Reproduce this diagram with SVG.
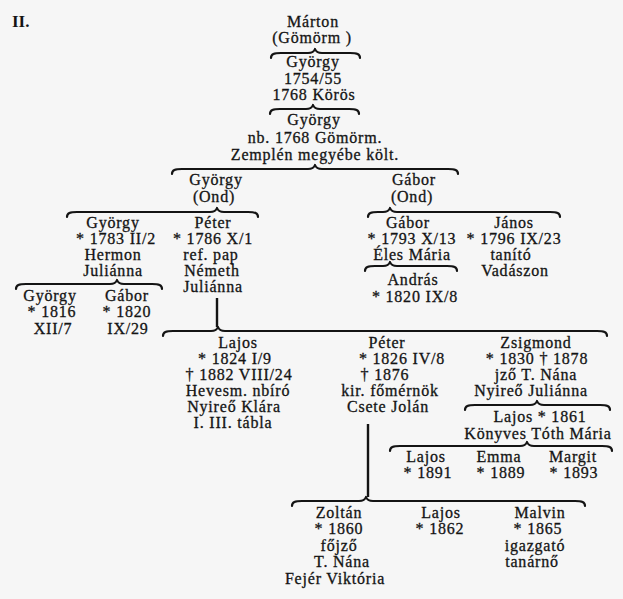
<svg xmlns="http://www.w3.org/2000/svg" width="623" height="599" viewBox="0 0 623 599">
<style>
.t{font-family:"Liberation Serif","Times New Roman",serif;font-size:16px;text-anchor:middle;fill:#141414;stroke:#141414;stroke-width:0.3;letter-spacing:0.8px}
.l{font-family:"Liberation Serif","Times New Roman",serif;font-size:17px;fill:#141414;font-weight:bold}
.b{fill:none;stroke:#141414;stroke-width:2.2;stroke-linecap:round;stroke-linejoin:round}
.v{fill:none;stroke:#141414;stroke-width:2.4}
</style>
<rect width="623" height="599" fill="#f6f6f6"/>
<text class="l" x="12" y="27">II.</text>
<g id="connectors">
<path class="b" d="M271,58 C271,54 274,53 281,53 L308,53 C312,53 314,52 315,49 C316,52 318,53 322,53 L350,53 C357,53 360,54 360,58"/>
<path class="b" d="M270,114 C270,110 273,109 280,109 L306,109 C310,109 312,108 313,105 C314,108 316,109 320,109 L349,109 C356,109 359,110 359,114"/>
<path class="b" d="M172,174 C172,170 175,169 182,169 L308,169 C312,169 314,168 315,165 C316,168 318,169 322,169 L448,169 C455,169 458,170 458,174"/>
<path class="b" d="M67,217 C67,213 70,212 77,212 L210,212 C214,212 216,211 217,208 C218,211 220,212 224,212 L248,212 C255,212 258,213 258,217"/>
<path class="b" d="M368,217 C368,213 371,212 378,212 L383,212 C387,212 389,211 390,208 C391,211 393,212 397,212 L550,212 C557,212 560,213 560,217"/>
<path class="b" d="M16,289 C16,285 19,284 26,284 L110,284 C114,284 116,283 117,280 C118,283 120,284 124,284 L152,284 C159,284 162,285 162,289"/>
<path class="b" d="M365,271 C365,267 368,266 375,266 L383,266 C387,266 389,265 390,262 C391,265 393,266 397,266 L447,266 C454,266 457,267 457,271"/>
<line class="v" x1="217" y1="298" x2="217" y2="327"/>
<path class="b" d="M163,336 C163,332 166,331 173,331 L211,331 C215,331 217,330 218,327 C219,330 221,331 225,331 L597,331 C604,331 607,332 607,336"/>
<path class="b" d="M465,410 C465,406 468,405 475,405 L530,405 C534,405 536,404 537,401 C538,404 540,405 544,405 L600,405 C607,405 610,406 610,410"/>
<path class="b" d="M390,451 C390,447 393,446 400,446 L520,446 C524,446 526,445 527,442 C528,445 530,446 534,446 L602,446 C609,446 612,447 612,451"/>
<line class="v" x1="368" y1="424" x2="368" y2="497"/>
<path class="b" d="M292,506 C292,502 295,501 302,501 L359,501 C363,501 365,500 366,497 C367,500 369,501 373,501 L575,501 C582,501 585,502 585,506"/>
</g>
<g id="n-marton"><text class="t" x="313" y="27">Márton</text><text class="t" x="312" y="43">(Gömörm )</text></g>
<g id="n-gyorgy-1754"><text class="t" x="313" y="67">György</text><text class="t" x="313" y="84">1754/55</text><text class="t" x="314" y="100">1768  Körös</text></g>
<g id="n-gyorgy-1768"><text class="t" x="314" y="125">György</text><text class="t" x="315" y="143">nb. 1768 Gömörm.</text><text class="t" x="315" y="160">Zemplén megyébe költ.</text></g>
<g id="n-gyorgy-ond"><text class="t" x="216" y="185">György</text><text class="t" x="214" y="202">(Ond)</text></g>
<g id="n-gabor-ond"><text class="t" x="414" y="185">Gábor</text><text class="t" x="412" y="202">(Ond)</text></g>
<g id="n-gyorgy-1783"><text class="t" x="113" y="228">György</text><text class="t" x="116" y="244">* 1783 II/2</text><text class="t" x="113" y="260">Hermon</text><text class="t" x="113" y="276">Juliánna</text></g>
<g id="n-peter-1786"><text class="t" x="213" y="228">Péter</text><text class="t" x="213" y="244">* 1786 X/1</text><text class="t" x="211" y="260">ref. pap</text><text class="t" x="212" y="276">Németh</text><text class="t" x="213" y="292">Juliánna</text></g>
<g id="n-gyorgy-1816"><text class="t" x="50" y="301">György</text><text class="t" x="52" y="317">* 1816</text><text class="t" x="53" y="334">XII/7</text></g>
<g id="n-gabor-1820"><text class="t" x="127" y="301">Gábor</text><text class="t" x="127" y="317">* 1820</text><text class="t" x="128" y="334">IX/29</text></g>
<g id="n-gabor-1793"><text class="t" x="408" y="228">Gábor</text><text class="t" x="412" y="244">* 1793 X/13</text><text class="t" x="412" y="260">Éles Mária</text></g>
<g id="n-janos"><text class="t" x="514" y="228">János</text><text class="t" x="514" y="244">* 1796 IX/23</text><text class="t" x="511" y="260">tanító</text><text class="t" x="515" y="276">Vadászon</text></g>
<g id="n-andras"><text class="t" x="413" y="285">András</text><text class="t" x="415" y="302">* 1820 IX/8</text></g>
<g id="n-lajos-1824"><text class="t" x="238" y="348">Lajos</text><text class="t" x="235" y="364">* 1824 I/9</text><text class="t" x="239" y="380">† 1882 VIII/24</text><text class="t" x="238" y="396">Hevesm. nbíró</text><text class="t" x="234" y="412">Nyireő Klára</text><text class="t" x="233" y="428">I. III. tábla</text></g>
<g id="n-peter-1826"><text class="t" x="387" y="348">Péter</text><text class="t" x="402" y="364">* 1826 IV/8</text><text class="t" x="385" y="380">† 1876</text><text class="t" x="390" y="396">kir. főmérnök</text><text class="t" x="388" y="412">Csete Jolán</text></g>
<g id="n-zsigmond"><text class="t" x="536" y="348">Zsigmond</text><text class="t" x="537" y="364">* 1830 † 1878</text><text class="t" x="536" y="380">jző T. Nána</text><text class="t" x="531" y="396">Nyireő Juliánna</text></g>
<g id="n-lajos-1861"><text class="t" x="540" y="422">Lajos * 1861</text><text class="t" x="538" y="439">Könyves Tóth Mária</text></g>
<g id="n-lajos-1891"><text class="t" x="426" y="462">Lajos</text><text class="t" x="428" y="478">* 1891</text></g>
<g id="n-emma"><text class="t" x="499" y="462">Emma</text><text class="t" x="501" y="478">* 1889</text></g>
<g id="n-margit"><text class="t" x="573" y="462">Margit</text><text class="t" x="574" y="478">* 1893</text></g>
<g id="n-zoltan"><text class="t" x="339" y="518">Zoltán</text><text class="t" x="339" y="534">* 1860</text><text class="t" x="339" y="551">főjző</text><text class="t" x="342" y="567">T. Nána</text><text class="t" x="335" y="584">Fejér Viktória</text></g>
<g id="n-lajos-1862"><text class="t" x="441" y="518">Lajos</text><text class="t" x="440" y="534">* 1862</text></g>
<g id="n-malvin"><text class="t" x="540" y="518">Malvin</text><text class="t" x="538" y="534">* 1865</text><text class="t" x="535" y="551">igazgató</text><text class="t" x="532" y="567">tanárnő</text></g>
</svg>
